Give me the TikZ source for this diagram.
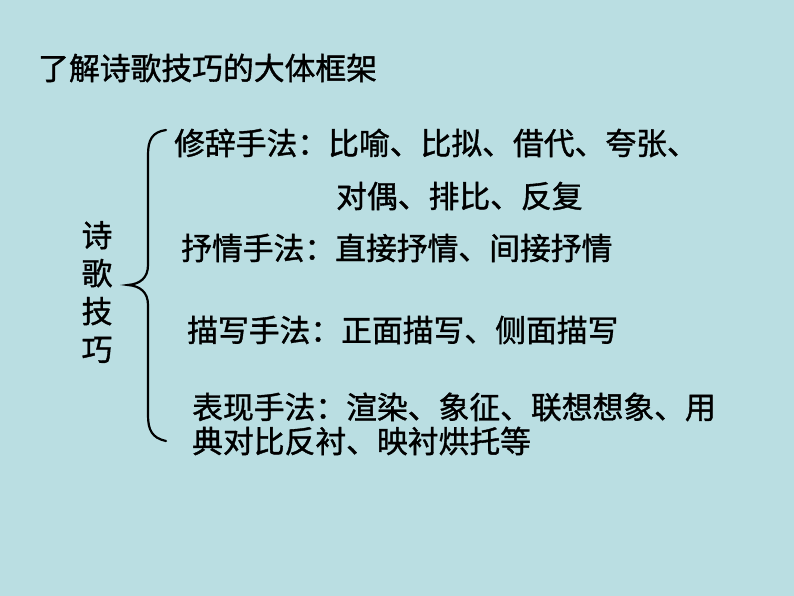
\documentclass[tikz,border=0pt]{standalone}
\usepackage{fontspec}
\newfontfamily\cjk[FakeBold=1.2]{Noto Sans CJK SC}
\definecolor{bgcyan}{RGB}{186,222,226}
\begin{document}
\begin{tikzpicture}[x=1pt,y=-1pt,
line/.style={anchor=west,inner sep=0pt,font=\cjk\fontsize{30.8}{30.8}\selectfont},
brace/.style={line width=2.2pt,line cap=round}]
\useasboundingbox[fill=bgcyan] (0,0) rectangle (794,596);
\node[line] (title) at (38,68) {了解诗歌技巧的大体框架};
\node[align=center,inner sep=0pt,font=\cjk\fontsize{30.8}{38}\selectfont] (root) at (97,292) {诗\\歌\\技\\巧};
\coordinate (top) at (166,130);
\coordinate (tip) at (128,285);
\coordinate (bot) at (166,441);
\draw[brace] (top) .. controls (152,132) and (148,140) .. (148,155) -- (148,265)
  .. controls (148,278) and (140,284) .. (tip) .. controls (140,286) and (148,292) .. (148,305)
  -- (148,415) .. controls (148,430) and (152,438) .. (bot);
\node[line] (xiuci) at (174,143) {修辞手法：比喻、比拟、借代、夸张、};
\node[line] (xiuci2) at (336,196) {对偶、排比、反复};
\node[line] (shuqing) at (181,248) {抒情手法：直接抒情、间接抒情};
\node[line] (miaoxie) at (187,330) {描写手法：正面描写、侧面描写};
\node[line] (biaoxian) at (192,407) {表现手法：渲染、象征、联想想象、用};
\node[line] (biaoxian2) at (192,441) {典对比反衬、映衬烘托等};
\end{tikzpicture}
\end{document}
